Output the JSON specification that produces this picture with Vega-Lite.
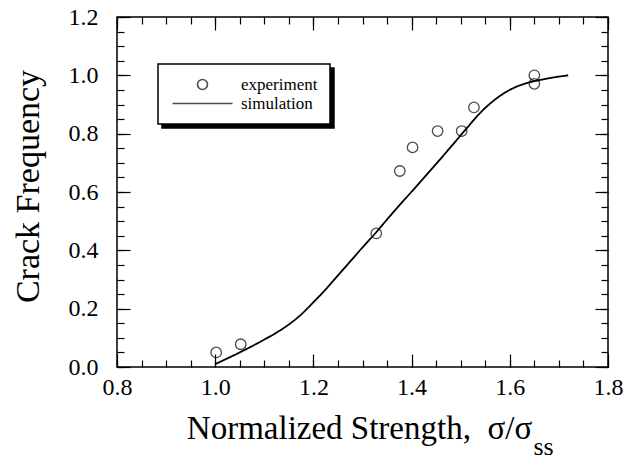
{
  "$schema": "https://vega.github.io/schema/vega-lite/v6.json",
  "width": 491,
  "height": 350,
  "autosize": {"type": "none"},
  "padding": {"left": 117, "top": 17, "right": 15, "bottom": 93},
  "background": "white",
  "config": {
    "view": {"stroke": "black", "strokeWidth": 1.5},
    "font": "Liberation Serif",
    "axis": {
      "domain": false,
      "grid": false,
      "tickColor": "black",
      "tickWidth": 1.2,
      "labelColor": "black",
      "titleColor": "black",
      "labelFont": "Liberation Serif",
      "titleFont": "Liberation Serif",
      "titleFontWeight": "normal",
      "labelFontSize": 24,
      "titleFontSize": 33,
      "labelFlush": false,
      "labelOverlap": false
    },
    "legend": {
      "strokeWidth": 1.5,
      "labelFont": "Liberation Serif",
      "labelFontSize": 17,
      "labelColor": "black",
      "padding": 12,
      "rowPadding": 1,
      "symbolSize": 100,
      "symbolOffset": 24,
      "labelOffset": 30
    }
  },
  "datasets": {
    "simulation": [
      {"strength": 1.0, "frequency": 0.01, "series": "simulation"},
      {"strength": 1.05, "frequency": 0.05, "series": "simulation"},
      {"strength": 1.1, "frequency": 0.094, "series": "simulation"},
      {"strength": 1.125, "frequency": 0.118, "series": "simulation"},
      {"strength": 1.15, "frequency": 0.146, "series": "simulation"},
      {"strength": 1.175, "frequency": 0.18, "series": "simulation"},
      {"strength": 1.2, "frequency": 0.222, "series": "simulation"},
      {"strength": 1.225, "frequency": 0.266, "series": "simulation"},
      {"strength": 1.25, "frequency": 0.314, "series": "simulation"},
      {"strength": 1.275, "frequency": 0.362, "series": "simulation"},
      {"strength": 1.3, "frequency": 0.41, "series": "simulation"},
      {"strength": 1.33, "frequency": 0.466, "series": "simulation"},
      {"strength": 1.342, "frequency": 0.49, "series": "simulation"},
      {"strength": 1.375, "frequency": 0.554, "series": "simulation"},
      {"strength": 1.4, "frequency": 0.601, "series": "simulation"},
      {"strength": 1.4715, "frequency": 0.738, "series": "simulation"},
      {"strength": 1.512, "frequency": 0.818, "series": "simulation"},
      {"strength": 1.539, "frequency": 0.87, "series": "simulation"},
      {"strength": 1.573, "frequency": 0.921, "series": "simulation"},
      {"strength": 1.607, "frequency": 0.956, "series": "simulation"},
      {"strength": 1.634, "frequency": 0.973, "series": "simulation"},
      {"strength": 1.6615, "frequency": 0.984, "series": "simulation"},
      {"strength": 1.69, "frequency": 0.993, "series": "simulation"},
      {"strength": 1.719, "frequency": 1.0, "series": "simulation"}
    ],
    "experiment": [
      {"strength": 1.002, "frequency": 0.05, "series": "experiment"},
      {"strength": 1.052, "frequency": 0.078, "series": "experiment"},
      {"strength": 1.328, "frequency": 0.458, "series": "experiment"},
      {"strength": 1.376, "frequency": 0.672, "series": "experiment"},
      {"strength": 1.402, "frequency": 0.753, "series": "experiment"},
      {"strength": 1.453, "frequency": 0.809, "series": "experiment"},
      {"strength": 1.502, "frequency": 0.809, "series": "experiment"},
      {"strength": 1.527, "frequency": 0.89, "series": "experiment"},
      {"strength": 1.65, "frequency": 1.0, "series": "experiment"},
      {"strength": 1.65, "frequency": 0.971, "series": "experiment"}
    ]
  },
  "resolve": {
    "axis": {"x": "independent", "y": "independent"},
    "legend": {"shape": "independent", "strokeDash": "independent"}
  },
  "layer": [
    {
      "data": {"name": "simulation"},
      "mark": {"type": "line", "color": "black", "strokeWidth": 1.8, "interpolate": "monotone"},
      "encoding": {
        "x": {
          "field": "strength", "type": "quantitative",
          "scale": {"domain": [0.8, 1.8], "nice": false, "zero": false},
          "axis": {
            "orient": "bottom", "values": [0.8, 1.0, 1.2, 1.4, 1.6, 1.8], "format": ".1f",
            "tickSize": -13, "labelPadding": 21,
            "title": "Normalized Strength,\u2002σ/σ", "titleX": 242, "titleY": 71,
            "titleAlign": "center", "titleBaseline": "alphabetic"
          }
        },
        "y": {
          "field": "frequency", "type": "quantitative",
          "scale": {"domain": [0, 1.2], "nice": false, "zero": false},
          "axis": {
            "orient": "left", "values": [0, 0.2, 0.4, 0.6, 0.8, 1.0, 1.2], "format": ".1f",
            "tickSize": -13, "labelPadding": 32,
            "title": "Crack Frequency", "titleFontSize": 34, "titleX": -79, "titleY": 169,
            "titleAngle": 270, "titleAlign": "center", "titleBaseline": "alphabetic"
          }
        },
        "strokeDash": {
          "field": "series", "type": "nominal",
          "scale": {"domain": ["simulation", "experiment"], "range": [[1, 0], [1, 0]]},
          "legend": {
            "orient": "none", "legendX": 45, "legendY": 51, "zindex": 0, "title": null,
            "fillColor": "black", "strokeColor": "black", "symbolStrokeColor": "black",
            "labelExpr": "''", "labelOffset": 107
          }
        }
      }
    },
    {
      "data": {"name": "experiment"},
      "mark": {"type": "point", "filled": false, "color": "black", "size": 110, "strokeWidth": 1.3},
      "encoding": {
        "x": {
          "field": "strength", "type": "quantitative",
          "scale": {"domain": [0.8, 1.8], "nice": false, "zero": false},
          "axis": {"orient": "top", "values": [0.8, 1.0, 1.2, 1.4, 1.6, 1.8], "tickSize": -13, "labels": false, "title": null}
        },
        "y": {
          "field": "frequency", "type": "quantitative",
          "scale": {"domain": [0, 1.2], "nice": false, "zero": false},
          "axis": {"orient": "right", "values": [0, 0.2, 0.4, 0.6, 0.8, 1.0, 1.2], "tickSize": -13, "labels": false, "title": null}
        },
        "shape": {
          "field": "series", "type": "nominal",
          "scale": {"domain": ["experiment", "simulation"], "range": ["circle", "M-6,0H6"]},
          "legend": {
            "orient": "none", "legendX": 41, "legendY": 47, "zindex": 1, "title": null,
            "fillColor": "white", "strokeColor": "black",
            "symbolFillColor": "white", "symbolStrokeColor": "black", "symbolStrokeWidth": 1.6
          }
        }
      }
    },
    {
      "data": {"name": "experiment"},
      "mark": {"type": "point", "opacity": 0},
      "encoding": {
        "x": {
          "field": "strength", "type": "quantitative",
          "scale": {"domain": [0.8, 1.8], "nice": false, "zero": false},
          "axis": {
            "orient": "bottom",
            "values": [0.8, 0.85, 0.9, 0.95, 1.0, 1.05, 1.1, 1.15, 1.2, 1.25, 1.3, 1.35, 1.4, 1.45, 1.5, 1.55, 1.6, 1.65, 1.7, 1.75, 1.8],
            "tickSize": -7, "labels": false,
            "title": "ss", "titleFontSize": 26, "titleX": 426, "titleY": 87,
            "titleAlign": "center", "titleBaseline": "alphabetic"
          }
        },
        "y": {
          "field": "frequency", "type": "quantitative",
          "scale": {"domain": [0, 1.2], "nice": false, "zero": false},
          "axis": {
            "orient": "left",
            "values": [0, 0.05, 0.1, 0.15, 0.2, 0.25, 0.3, 0.35, 0.4, 0.45, 0.5, 0.55, 0.6, 0.65, 0.7, 0.75, 0.8, 0.85, 0.9, 0.95, 1.0, 1.05, 1.1, 1.15, 1.2],
            "tickSize": -7, "labels": false, "title": null
          }
        }
      }
    },
    {
      "data": {"name": "experiment"},
      "mark": {"type": "point", "opacity": 0},
      "encoding": {
        "x": {
          "field": "strength", "type": "quantitative",
          "scale": {"domain": [0.8, 1.8], "nice": false, "zero": false},
          "axis": {
            "orient": "top",
            "values": [0.8, 0.85, 0.9, 0.95, 1.0, 1.05, 1.1, 1.15, 1.2, 1.25, 1.3, 1.35, 1.4, 1.45, 1.5, 1.55, 1.6, 1.65, 1.7, 1.75, 1.8],
            "tickSize": -7, "labels": false, "title": null
          }
        },
        "y": {
          "field": "frequency", "type": "quantitative",
          "scale": {"domain": [0, 1.2], "nice": false, "zero": false},
          "axis": {
            "orient": "right",
            "values": [0, 0.05, 0.1, 0.15, 0.2, 0.25, 0.3, 0.35, 0.4, 0.45, 0.5, 0.55, 0.6, 0.65, 0.7, 0.75, 0.8, 0.85, 0.9, 0.95, 1.0, 1.05, 1.1, 1.15, 1.2],
            "tickSize": -7, "labels": false, "title": null
          }
        }
      }
    }
  ]
}
